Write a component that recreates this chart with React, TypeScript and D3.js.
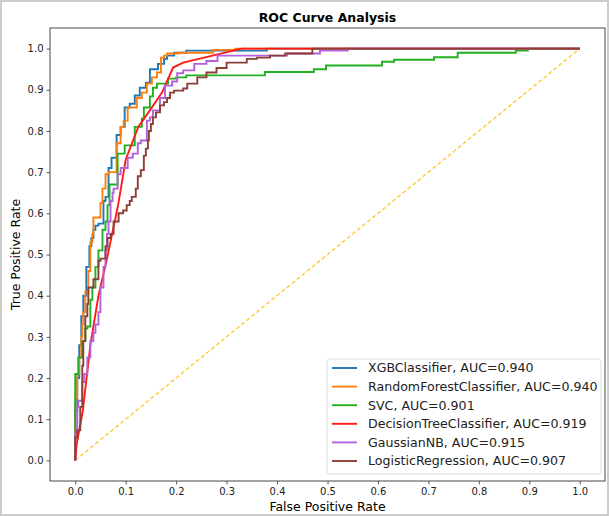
import React, { useEffect, useRef } from 'react';
import * as d3 from 'd3';

// ROC points: [fpr, tpr]; each point is the right end of a plateau (step-before)
const xgb = [[0,0],[0,0.05],[0.004,0.12],[0.008,0.2],[0.012,0.28],[0.016,0.35],[0.022,0.40],[0.028,0.47],[0.032,0.52],[0.036,0.54],[0.040,0.56],[0.046,0.57],[0.056,0.575],[0.060,0.63],[0.066,0.64],[0.072,0.71],[0.082,0.735],[0.090,0.79],[0.098,0.81],[0.108,0.857],[0.118,0.866],[0.128,0.886],[0.140,0.905],[0.148,0.917],[0.164,0.95],[0.176,0.963],[0.182,0.975],[0.196,0.983],[0.220,0.99],[0.38,0.995],[1,1]];
const rf = [[0,0],[0,0.04],[0.004,0.15],[0.008,0.21],[0.012,0.25],[0.014,0.30],[0.016,0.33],[0.020,0.36],[0.026,0.41],[0.030,0.46],[0.034,0.53],[0.036,0.55],[0.050,0.59],[0.054,0.625],[0.060,0.66],[0.066,0.695],[0.082,0.70],[0.090,0.77],[0.096,0.81],[0.104,0.825],[0.122,0.857],[0.132,0.88],[0.142,0.893],[0.152,0.915],[0.162,0.93],[0.170,0.942],[0.176,0.978],[0.182,0.983],[0.205,0.988],[0.273,0.990],[0.317,0.997],[1,1]];
const svc = [[0,0],[0,0.06],[0.006,0.21],[0.014,0.25],[0.020,0.29],[0.024,0.32],[0.030,0.325],[0.034,0.39],[0.040,0.42],[0.046,0.47],[0.054,0.51],[0.060,0.56],[0.064,0.58],[0.068,0.62],[0.084,0.67],[0.098,0.745],[0.118,0.765],[0.132,0.81],[0.136,0.83],[0.148,0.857],[0.154,0.884],[0.162,0.905],[0.184,0.915],[0.200,0.927],[0.220,0.93],[0.376,0.935],[0.473,0.943],[0.497,0.95],[0.608,0.959],[0.632,0.968],[0.711,0.973],[0.758,0.979],[0.873,0.99],[0.897,0.995],[1,1]];
// decision tree is drawn with straight segments
const dtree = [[0,0],[0.003,0.04],[0.015,0.12],[0.03,0.28],[0.046,0.40],[0.063,0.49],[0.085,0.62],[0.1,0.73],[0.125,0.81],[0.148,0.85],[0.172,0.893],[0.194,0.954],[0.214,0.966],[0.33,1.0],[1,1]];
const gnb = [[0,0],[0,0.03],[0.004,0.07],[0.006,0.13],[0.014,0.145],[0.018,0.19],[0.024,0.21],[0.030,0.25],[0.036,0.29],[0.040,0.31],[0.046,0.33],[0.050,0.36],[0.056,0.42],[0.060,0.47],[0.063,0.51],[0.066,0.55],[0.070,0.58],[0.074,0.63],[0.076,0.65],[0.084,0.66],[0.090,0.695],[0.104,0.71],[0.114,0.735],[0.124,0.745],[0.130,0.77],[0.142,0.777],[0.148,0.825],[0.154,0.833],[0.168,0.85],[0.178,0.88],[0.192,0.91],[0.202,0.92],[0.214,0.94],[0.236,0.947],[0.26,0.963],[0.282,0.97],[0.42,0.983],[0.485,0.988],[0.54,0.995],[1,1]];
const logreg = [[0,0],[0,0.02],[0.004,0.056],[0.010,0.073],[0.014,0.13],[0.016,0.23],[0.020,0.29],[0.024,0.35],[0.026,0.38],[0.036,0.42],[0.046,0.44],[0.050,0.485],[0.060,0.49],[0.064,0.52],[0.070,0.54],[0.076,0.55],[0.086,0.58],[0.095,0.60],[0.102,0.607],[0.108,0.62],[0.112,0.63],[0.120,0.64],[0.124,0.66],[0.130,0.69],[0.136,0.705],[0.140,0.74],[0.144,0.757],[0.146,0.777],[0.150,0.80],[0.154,0.817],[0.160,0.833],[0.168,0.845],[0.176,0.862],[0.182,0.87],[0.188,0.88],[0.196,0.893],[0.214,0.898],[0.222,0.903],[0.242,0.915],[0.26,0.93],[0.28,0.942],[0.30,0.953],[0.340,0.966],[0.36,0.975],[0.386,0.978],[0.416,0.983],[0.47,0.988],[1,1]];

const names = ['XGBClassifier', 'RandomForestClassifier', 'SVC', 'DecisionTreeClassifier', 'GaussianNB', 'LogisticRegression'];
const aucs = ['0.940', '0.940', '0.901', '0.919', '0.915', '0.907'];
const colors = ['#1f77b4', '#ff7f0e', '#22b022', '#ff1a1a', '#b461dc', '#8c3f35'];
const ticks = [0, 0.1, 0.2, 0.3, 0.4, 0.5, 0.6, 0.7, 0.8, 0.9, 1.0];

const W = 609, H = 516;
const font = 'DejaVu Sans, sans-serif';

function App() {
  const ref = useRef(null);

  useEffect(() => {
    const svg = d3.select(ref.current);
    svg.selectAll('*').remove();

    // frame of the screenshot
    svg.append('rect').attr('x', 1).attr('y', 1).attr('width', W - 2).attr('height', H - 2)
      .attr('fill', '#fff').attr('stroke', '#cccccc').attr('stroke-width', 2);

    const left = 50, right = 605, top = 28, bottom = 481;
    const x = d3.scaleLinear().domain([-0.05, 1.05]).range([left, right]);
    const y = d3.scaleLinear().domain([-0.05, 1.05]).range([bottom, top]);

    // diagonal
    svg.append('line')
      .attr('x1', x(0)).attr('y1', y(0)).attr('x2', x(1)).attr('y2', y(1))
      .attr('stroke', '#ffc72c').attr('stroke-width', 1.3).attr('stroke-dasharray', '4,2.5');

    const series = [xgb, rf, svc, dtree, gnb, logreg];
    series.forEach((d, i) => {
      const line = d3.line()
        .x(p => x(p[0])).y(p => y(p[1]))
        .curve(i === 3 ? d3.curveLinear : d3.curveStepBefore);
      svg.append('path').datum(d).attr('d', line)
        .attr('fill', 'none').attr('stroke', colors[i]).attr('stroke-width', 1.9)
        .attr('stroke-linejoin', 'miter');
    });

    // axes
    const gx = svg.append('g').attr('transform', `translate(0, ${bottom})`)
      .call(d3.axisBottom(x).tickValues(ticks).tickFormat(d3.format('.1f')).tickSize(3.5).tickPadding(3));
    const gy = svg.append('g').attr('transform', `translate(${left}, 0)`)
      .call(d3.axisLeft(y).tickValues(ticks).tickFormat(d3.format('.1f')).tickSize(3.5).tickPadding(3));
    [gx, gy].forEach(g => {
      g.select('.domain').remove();
      g.selectAll('text').attr('font-family', font).attr('font-size', 10).attr('fill', '#222');
      g.selectAll('line').attr('stroke', '#333').attr('stroke-width', 0.8);
    });

    svg.append('rect').attr('x', left).attr('y', top).attr('width', right - left).attr('height', bottom - top)
      .attr('fill', 'none').attr('stroke', '#333').attr('stroke-width', 0.9);

    // texts
    svg.append('text').attr('x', (left + right) / 2).attr('y', 22).attr('text-anchor', 'middle')
      .attr('font-family', font).attr('font-size', 12.5).attr('font-weight', 'bold').text('ROC Curve Analysis');
    svg.append('text').attr('x', (left + right) / 2).attr('y', 511).attr('text-anchor', 'middle')
      .attr('font-family', font).attr('font-size', 12.5).text('False Positive Rate');
    svg.append('text').attr('transform', `translate(20, ${(top + bottom) / 2}) rotate(-90)`)
      .attr('text-anchor', 'middle').attr('font-family', font).attr('font-size', 12.5).text('True Positive Rate');

    // legend
    const lg = svg.append('g');
    lg.append('rect').attr('x', 327).attr('y', 359).attr('width', 274).attr('height', 115).attr('rx', 2)
      .attr('fill', '#fff').attr('fill-opacity', 0.8).attr('stroke', '#dddddd').attr('stroke-width', 1);
    names.forEach((n, i) => {
      const yy = 368 + i * 18.6;
      lg.append('line').attr('x1', 332).attr('x2', 357).attr('y1', yy).attr('y2', yy)
        .attr('stroke', colors[i]).attr('stroke-width', 1.9);
      lg.append('text').attr('x', 368).attr('y', yy).attr('dy', '0.35em')
        .attr('font-family', font).attr('font-size', 12.6).attr('fill', '#222')
        .text(`${n}, AUC=${aucs[i]}`);
    });
  }, []);

  return <svg ref={ref} width={W} height={H} style={{ position: 'absolute', top: 0, left: 0 }} />;
}

export default App;
